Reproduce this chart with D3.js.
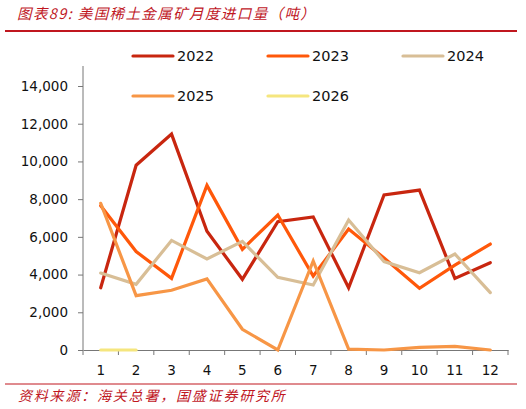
<!DOCTYPE html>
<html>
<head>
<meta charset="utf-8">
<script src="https://cdn.jsdelivr.net/npm/d3@7"></script>
<style>
  body { margin: 0; background: #fff; }
  svg { display: block; }
</style>
</head>
<body>
<div id="chart"></div>
<script>
var months = [1, 2, 3, 4, 5, 6, 7, 8, 9, 10, 11, 12];
var yTicks = [0, 2000, 4000, 6000, 8000, 10000, 12000, 14000];
var seriesNames = ["2022", "2023", "2024", "2025", "2026"];
var v2022 = [3300, 9800, 11450, 6300, 3750, 6800, 7060, 3300, 8220, 8480, 3800, 4630];
var v2023 = [7650, 5220, 3800, 8730, 5340, 7160, 3920, 6420, 4880, 3270, 4500, 5620];
var v2024 = [4080, 3480, 5810, 4830, 5760, 3850, 3450, 6890, 4690, 4100, 5090, 3040];
var v2025 = [7780, 2880, 3170, 3770, 1100, 0, 4720, 50, 0, 140, 190, 0];
var v2026 = [0, 0];
var colors = ["#c8260f", "#ff580a", "#d8be96", "#f79646", "#f5e67e"];

(function chart() {
  var width = 526, height = 409;
  var margin = { top: 86, right: 18, bottom: 59, left: 83 };
  var red = "#c0171f";
  var font = "'DejaVu Sans', Verdana, sans-serif";
  var cjk = "'Noto Sans CJK SC', sans-serif";

  var svg = d3.select("#chart").append("svg")
    .attr("width", width)
    .attr("height", height);

  // title + rules
  svg.append("text")
    .attr("x", 17).attr("y", 19)
    .attr("fill", red)
    .style("font-family", cjk)
    .style("font-style", "italic")
    .style("font-size", "14.5px")
    .style("letter-spacing", "1.4px")
    .text("图表89:  美国稀土金属矿月度进口量（吨）");
  svg.append("line")
    .attr("x1", 5).attr("x2", 517).attr("y1", 31).attr("y2", 31)
    .attr("stroke", red).attr("stroke-width", 2);
  svg.append("line")
    .attr("x1", 5).attr("x2", 517).attr("y1", 384).attr("y2", 384)
    .attr("stroke", red).attr("stroke-width", 1);
  svg.append("text")
    .attr("x", 18).attr("y", 401)
    .attr("fill", red)
    .style("font-family", cjk)
    .style("font-style", "italic")
    .style("font-size", "14px")
    .style("letter-spacing", "1.8px")
    .text("资料来源：海关总署，国盛证券研究所");

  var x = d3.scaleBand()
    .domain(months)
    .range([margin.left, 508]);
  var y = d3.scaleLinear()
    .domain([0, 14000])
    .range([350, margin.top]);

  var g = svg.append("g");

  // y axis
  var yAxis = g.append("g")
    .attr("transform", "translate(" + margin.left + ",0)")
    .call(d3.axisLeft(y).tickValues(yTicks).tickSize(5).tickPadding(10)
      .tickFormat(d3.format(",")));
  yAxis.select(".domain").attr("d", "M0,66V350").attr("stroke", "#777");
  yAxis.selectAll(".tick line").attr("stroke", "#777");
  yAxis.selectAll("text")
    .style("font-family", font).style("font-size", "13.5px").attr("fill", "#111");

  // x axis, ticks at band edges
  var xAxis = g.append("g")
    .attr("transform", "translate(0,350)")
    .call(d3.axisBottom(x).tickSize(0).tickPadding(15));
  xAxis.select(".domain").attr("stroke", "#777");
  xAxis.selectAll("text")
    .style("font-family", font).style("font-size", "13.5px").attr("fill", "#111");
  g.selectAll(".xedge")
    .data(months.concat([13]))
    .enter().append("line")
    .attr("class", "xedge")
    .attr("x1", function(d) { return d <= 12 ? x(d) : x(12) + x.bandwidth(); })
    .attr("x2", function(d) { return d <= 12 ? x(d) : x(12) + x.bandwidth(); })
    .attr("y1", 350).attr("y2", 355)
    .attr("stroke", "#777");

  var all = [v2022, v2023, v2024, v2025, v2026];
  var line = d3.line()
    .x(function(d, i) { return x(months[i]) + x.bandwidth() / 2; })
    .y(function(d) { return y(d); });

  g.selectAll(".series")
    .data([0, 1, 2, 3, 4])
    .enter().append("path")
    .attr("class", "series")
    .attr("d", function(i) { return line(all[i]); })
    .attr("fill", "none")
    .attr("stroke", function(i) { return colors[i]; })
    .attr("stroke-width", 3.2)
    .attr("stroke-linecap", "round")
    .attr("stroke-linejoin", "miter");

  // legend
  var legend = svg.selectAll(".legend")
    .data(seriesNames)
    .enter().append("g")
    .attr("class", "legend")
    .attr("transform", function(d, i) {
      return "translate(" + (133 + (i % 3) * 135) + "," + (56 + Math.floor(i / 3) * 40) + ")";
    });
  legend.append("line")
    .attr("x1", 0).attr("x2", 40)
    .attr("stroke", function(d, i) { return colors[i]; })
    .attr("stroke-width", 3.2)
    .attr("stroke-linecap", "round");
  legend.append("text")
    .attr("x", 44).attr("y", 5)
    .style("font-family", font).style("font-size", "14.5px")
    .attr("fill", "#111")
    .text(function(d) { return d; });
})();
</script>
</body>
</html>
